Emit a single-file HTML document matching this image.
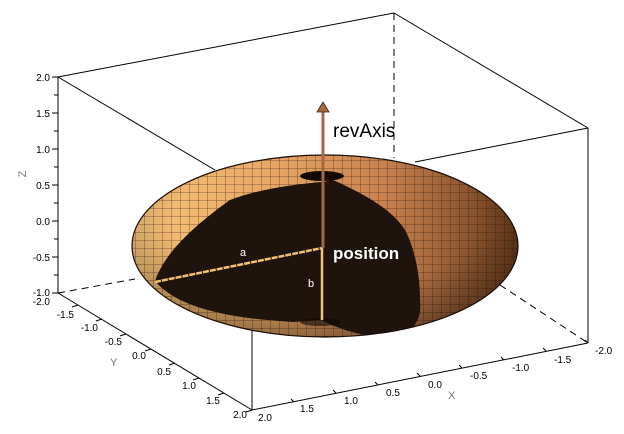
<!DOCTYPE html>
<html><head><meta charset="utf-8"><style>
html,body{margin:0;padding:0;background:#fff;width:624px;height:434px;overflow:hidden}
text{font-family:"Liberation Sans",sans-serif}
</style></head><body>
<svg width="624" height="434" viewBox="0 0 624 434" xmlns="http://www.w3.org/2000/svg">
<defs>
<linearGradient id="body" x1="0" y1="0" x2="1" y2="0">
<stop offset="0" stop-color="#f8c47a"/>
<stop offset="0.35" stop-color="#e9a866"/>
<stop offset="0.65" stop-color="#c98250"/>
<stop offset="1" stop-color="#6a3c1c"/>
</linearGradient>
<radialGradient id="shade" cx="0.5" cy="0.35" r="0.65">
<stop offset="0.6" stop-color="#000" stop-opacity="0"/>
<stop offset="1" stop-color="#000" stop-opacity="0.35"/>
</radialGradient>
<pattern id="grid" width="9" height="8" patternUnits="userSpaceOnUse">
<path d="M0 0 H9 M0 0 V8" stroke="#2a1508" stroke-width="0.8" fill="none" opacity="0.7"/>
</pattern>
<clipPath id="ell"><ellipse cx="325" cy="246" rx="193" ry="91"/></clipPath>
</defs>
<g stroke="#000" stroke-width="1" fill="none">
<line x1="58" y1="77" x2="394" y2="13"/>
<line x1="394" y1="13" x2="588" y2="128"/>
<line x1="58" y1="77" x2="58" y2="293"/>
<line x1="58" y1="77" x2="215" y2="170"/>
<line x1="588" y1="128" x2="415" y2="162"/>
<line x1="588" y1="128" x2="588" y2="343"/>
<line x1="58" y1="293" x2="252" y2="410"/>
<line x1="252" y1="410" x2="588" y2="343"/>
<line x1="252" y1="330" x2="252" y2="410"/>
<line x1="394" y1="13" x2="394" y2="158" stroke-dasharray="7,5"/>
<line x1="58" y1="293" x2="135" y2="279" stroke-dasharray="7,5"/>
<line x1="500" y1="285" x2="588" y2="343" stroke-dasharray="7,5"/>
</g>
<ellipse cx="325" cy="246" rx="193" ry="91" fill="url(#body)"/>
<ellipse cx="325" cy="246" rx="193" ry="91" fill="url(#grid)"/>
<ellipse cx="325" cy="246" rx="193" ry="91" fill="url(#shade)"/>
<g clip-path="url(#ell)">
<path d="M322 182 C 295 184, 255 190, 230 200 C 195 225, 165 252, 155 281 C 175 305, 220 318, 293 322 L 322 320 C 335 328, 360 336, 397 340 C 415 330, 422 318, 420 300 C 420 270, 413 245, 405 230 C 395 215, 378 200, 333 180 Z" fill="#1e130d"/>
<path d="M322 182 C 295 184, 255 190, 230 200 C 195 225, 165 252, 155 281 C 175 305, 220 318, 293 322 L 322 320 C 335 328, 360 336, 397 340 C 415 330, 422 318, 420 300 C 420 270, 413 245, 405 230 C 395 215, 378 200, 333 180 Z" fill="url(#grid)" opacity="0.35"/>
</g>
<ellipse cx="325" cy="246" rx="193" ry="91" fill="none" stroke="#1a0e06" stroke-width="1.2"/>
<ellipse cx="322" cy="176" rx="22" ry="5" fill="#120904"/>
<ellipse cx="320" cy="322" rx="20" ry="4" fill="#0d0703" opacity="0.6"/>
<line x1="155" y1="282" x2="322" y2="248" stroke="#f3c172" stroke-width="2.5" stroke-dasharray="6,1"/>
<line x1="322" y1="248" x2="322" y2="320" stroke="#f3c172" stroke-width="2.5"/>
<line x1="323" y1="112" x2="323" y2="248" stroke="#a8683e" stroke-width="3"/>
<polygon points="323,102 317,112 329,112" fill="#a8683e" stroke="#3a2010" stroke-width="0.8"/>
<text x="333" y="137" font-size="19" fill="#000">revAxis</text>
<text x="333" y="259" font-size="17" font-weight="bold" fill="#fff">position</text>
<text x="240" y="256" font-size="11" fill="#fff">a</text>
<text x="308" y="287" font-size="11" fill="#fff">b</text>
<g font-size="10" fill="#000" text-anchor="end">
<text x="50" y="81">2.0</text><text x="50" y="117">1.5</text><text x="50" y="153">1.0</text>
<text x="50" y="189">0.5</text><text x="50" y="225">0.0</text><text x="50" y="261">-0.5</text>
<text x="50" y="296">-1.0</text><text x="50" y="305">-2.0</text>
<text x="74" y="318">-1.5</text><text x="98" y="331">-1.0</text><text x="122" y="345">-0.5</text>
<text x="146" y="359">0.0</text><text x="171" y="375">0.5</text><text x="196" y="389">1.0</text>
<text x="220" y="404">1.5</text><text x="247" y="418">2.0</text>
</g>
<g font-size="10" fill="#000">
<text x="258" y="421">2.0</text><text x="300" y="412">1.5</text><text x="344" y="404">1.0</text>
<text x="386" y="396">0.5</text><text x="428" y="388">0.0</text><text x="470" y="379">-0.5</text>
<text x="512" y="371">-1.0</text><text x="554" y="363">-1.5</text><text x="595" y="354">-2.0</text>
</g>
<text x="448" y="399" font-size="11" fill="#777">X</text>
<text x="110" y="366" font-size="11" fill="#777">Y</text>
<text x="26" y="174" font-size="11" fill="#777" transform="rotate(-90 26 174)" text-anchor="middle">Z</text>
<g stroke="#000" stroke-width="1">
<path d="M52 77H58M52 113H58M52 149H58M52 185H58M52 221H58M52 257H58M52 293H58"/>
<path d="M54 95H58M54 131H58M54 167H58M54 203H58M54 239H58M54 275H58"/>
<path d="M78 305l-6 2M102 319l-6 2M126 334l-6 2M151 349l-6 2M175 363l-6 2M199 378l-6 2M224 393l-6 2M252 410l-6 2"/>
<path d="M294 402l-3-3M336 393l-3-3M378 385l-3-3M420 376l-3-3M462 368l-3-3M504 360l-3-3M546 351l-3-3M588 343l-3-3"/>
</g>
</svg>
</body></html>
